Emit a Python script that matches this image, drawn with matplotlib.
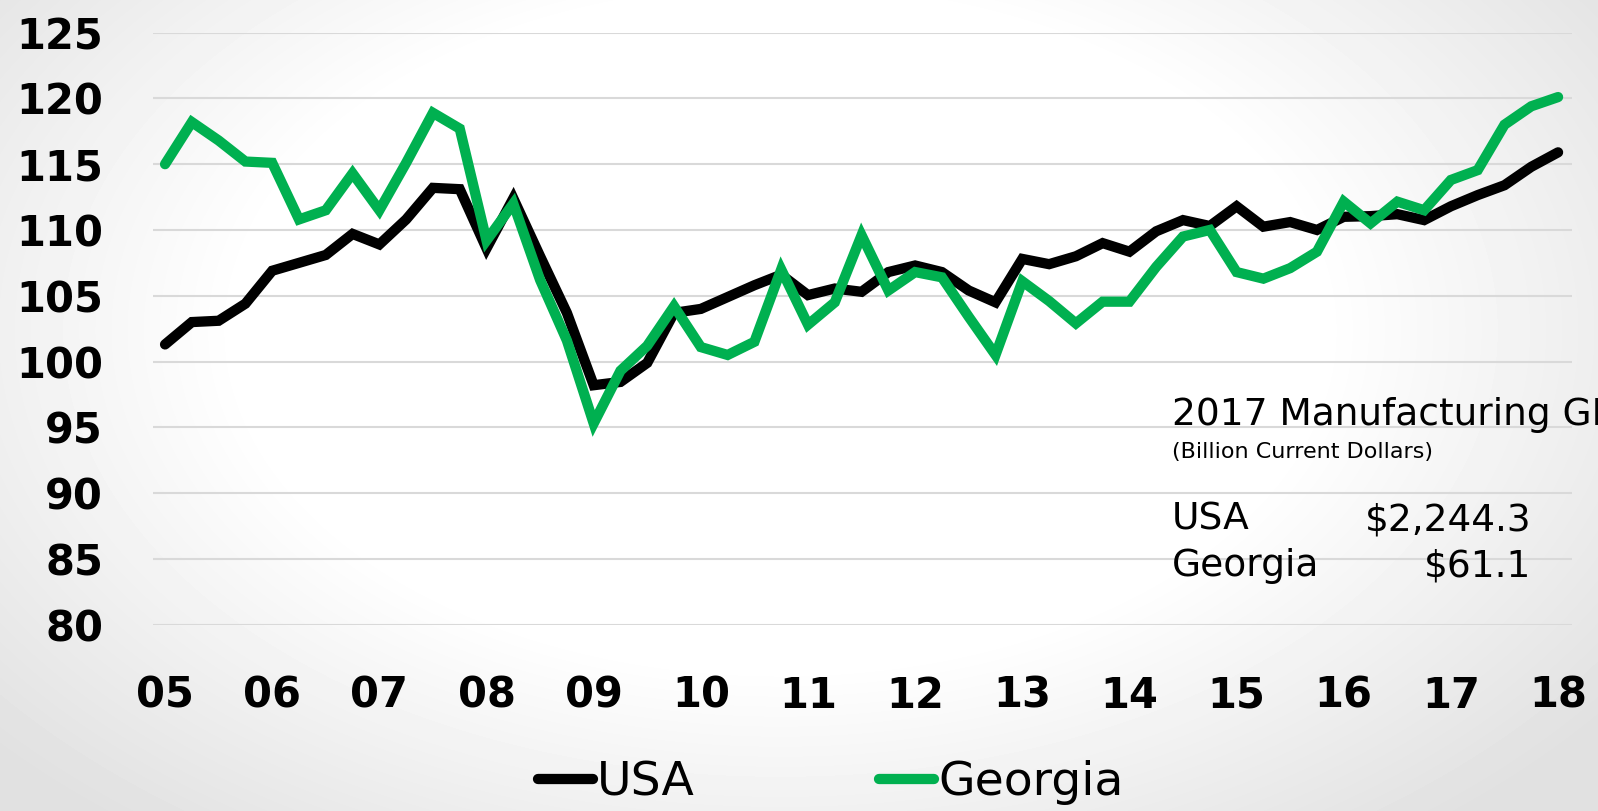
import numpy as np
import matplotlib.pyplot as plt
from matplotlib.lines import Line2D

# quarterly index, 2005Q1 .. 2018Q1
usa = [101.3, 103.0, 103.1, 104.4, 106.9, 107.5, 108.1, 109.7, 108.9, 110.8,
       113.2, 113.1, 108.6, 112.4, 108.0, 103.7, 98.2, 98.45, 99.9, 103.7,
       104.0, 104.9, 105.8, 106.6, 105.05, 105.55, 105.3, 106.8, 107.3, 106.8,
       105.4, 104.5, 107.8, 107.4, 108.0, 109.0, 108.35, 109.9, 110.75, 110.3,
       111.8, 110.25, 110.6, 110.0, 111.0, 111.05, 111.2, 110.75, 111.8, 112.65,
       113.4, 114.8, 115.9]
georgia = [115.0, 118.2, 116.8, 115.2, 115.1, 110.8, 111.5, 114.3, 111.5, 115.1,
           118.9, 117.7, 109.2, 112.0, 106.2, 101.6, 95.3, 99.3, 101.2, 104.2,
           101.1, 100.5, 101.5, 107.0, 102.8, 104.5, 109.6, 105.4, 106.8, 106.4,
           103.4, 100.5, 106.1, 104.6, 102.9, 104.55, 104.55, 107.2, 109.5, 110.0,
           106.8, 106.3, 107.1, 108.35, 112.15, 110.5, 112.15, 111.5, 113.8, 114.55,
           118.0, 119.4, 120.1]
year_labels = ['05', '06', '07', '08', '09', '10', '11', '12', '13', '14', '15', '16', '17', '18']
y_ticks = [80, 85, 90, 95, 100, 105, 110, 115, 120, 125]

gdp_names = ['USA', 'Georgia']
gdp_values = ['$2,244.3', '$61.1']

GREEN = '#00B050'

fig = plt.figure(figsize=(15.98, 8.11), dpi=100)

# soft radial background
bg = fig.add_axes([0, 0, 1, 1], zorder=-10)
yy, xx = np.mgrid[0:811, 0:1598]
r = np.sqrt(((xx - 780) / 900.0) ** 2 + ((yy - 330) / 560.0) ** 2)
shade = 1 - 0.12 * np.clip((r - 0.6) / 0.55, 0, 1)
bg.imshow(shade, cmap='gray', vmin=0, vmax=1, aspect='auto', interpolation='bilinear')
bg.axis('off')

ax = fig.add_axes([153 / 1598, 1 - 624.7 / 811, (1572 - 153) / 1598, (624.7 - 32.6) / 811])
ax.patch.set_alpha(0)

x = np.arange(len(usa))
ax.plot(x, usa, color='black', lw=7.4, solid_capstyle='round', solid_joinstyle='miter', zorder=3)
ax.plot(x, georgia, color=GREEN, lw=7.4, solid_capstyle='round', solid_joinstyle='miter', zorder=4)

ax.set_xlim(-0.45, 52.52)
ax.set_ylim(80, 125)
ax.set_yticks(y_ticks)
ax.set_xticks(np.arange(0, len(usa), 4))
ax.set_xticklabels(year_labels)
ax.grid(axis='y', color='#D9D9D9', lw=1.5)
ax.set_axisbelow(True)
for s in ax.spines.values():
    s.set_visible(False)
ax.tick_params(axis='both', length=0, labelsize=30)
ax.tick_params(axis='y', pad=36)
ax.tick_params(axis='x', pad=36)
for lab in ax.get_xticklabels() + ax.get_yticklabels():
    lab.set_fontweight('bold')

# legend at bottom
handles = [Line2D([], [], color='black', lw=7.4, solid_capstyle='round'),
           Line2D([], [], color=GREEN, lw=7.4, solid_capstyle='round')]
fig.legend(handles, gdp_names, loc='center', bbox_to_anchor=(0.52, 0.035), ncol=2,
           frameon=False, handlelength=1.15, handletextpad=0.1, columnspacing=3.9,
           prop={'size': 34})

# 2017 GDP note (runs off the right edge, as in the source slide)
fig.text(1172 / 1598, 1 - 415 / 811, '2017 Manufacturing GDP', fontsize=27, va='center', ha='left')
fig.text(1172 / 1598, 1 - 452 / 811, '(Billion Current Dollars)', fontsize=16, va='center', ha='left')
for i, (n, v) in enumerate(zip(gdp_names, gdp_values)):
    yv = 1 - (520 + 46 * i) / 811
    fig.text(1172 / 1598, yv, n, fontsize=27, va='center', ha='left')
    fig.text(1531 / 1598, yv, v, fontsize=27, va='center', ha='right')

fig.savefig('out.png', dpi=100)
